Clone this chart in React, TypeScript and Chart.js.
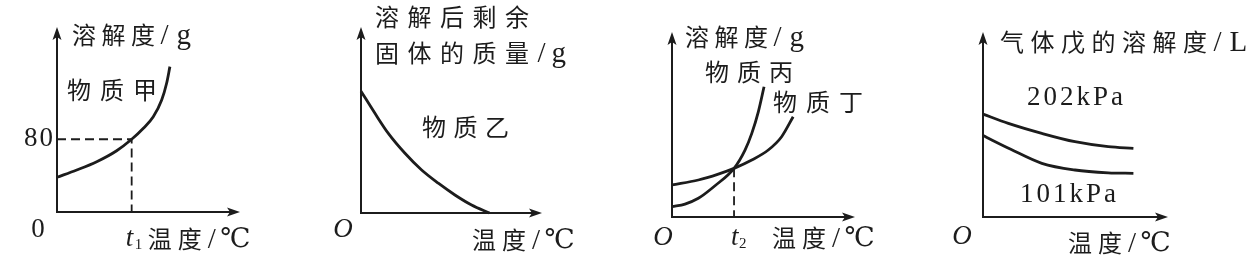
import React, { useEffect, useRef } from "react";
import { Chart, registerables } from "chart.js";

Chart.register(...registerables);

const W = 1253;
const H = 259;
const INK = "#1c1c1c";
const CJKFONT = '"Noto Sans CJK SC", "Noto Sans CJK JP", sans-serif';
const SERIF = '"Liberation Serif", "DejaVu Serif", serif';

// ---------- Panel 1: 物质甲 ----------
const p1Temp = [0, 10.8, 21.7, 32.6, 40.8, 47.2, 52.6, 57.2, 59.9, 61.7];
const p1Solubility = [38.2, 46.2, 55.3, 67.4, 80, 92.1, 104.8, 123.2, 141.6, 159.9];
const p1T1 = 40.8;
const p1Mark = 80;
const p1YMax = 203.5;
const p1Texts = ["溶解度/g", "物质甲", "80", "0", "t", "1", "温度/℃"];

// ---------- Panel 2: 物质乙 ----------
const p2Temp = [0, 7.7, 15.1, 24.3, 33.5, 42.7, 51.9, 61.1, 71];
const p2Mass = [65.5, 53.6, 42.8, 32.1, 23.1, 16.0, 9.7, 4.3, 0];
const p2Texts = ["溶解后剩余", "固体的质量/g", "物质乙", "O", "温度/℃"];

// ---------- Panel 3: 物质丙 / 物质丁 ----------
const p3TempBing = [0, 7.1, 14.4, 23.5, 33.9, 39.9, 43.6, 47.2, 50.3];
const p3SolBing = [5.6, 7.0, 10.1, 16.9, 26.3, 36.2, 45.2, 57.0, 70.4];
const p3TempDing = [0, 14.4, 25.3, 33.9, 43.6, 52.6, 59.9, 66.2];
const p3SolDing = [17.3, 20.0, 23.2, 26.3, 30.8, 36.2, 43.4, 54.2];
const p3T2 = 33.9;
const p3Cross = 26.3;
const p3Texts = ["溶解度/g", "物质丙", "物质丁", "O", "t", "2", "温度/℃"];

// ---------- Panel 4: 气体戊 ----------
const p4Temp202 = [0, 13.7, 31.8, 49.7, 67.7, 81.3];
const p4Sol202 = [55.6, 50.6, 45.2, 40.7, 38.0, 37.1];
const p4Temp101 = [0, 15, 31.8, 49.7, 67.7, 81.3];
const p4Sol101 = [44.0, 36.6, 29.0, 25.4, 23.9, 23.6];
const p4Texts = ["气体戊的溶解度/L", "202kPa", "101kPa", "O", "温度/℃"];

type Opts = { spacing?: number; align?: CanvasTextAlign; italic?: boolean };

function txt(ctx: CanvasRenderingContext2D, s: string, x: number, y: number, size: number, o: Opts = {}) {
  ctx.save();
  ctx.font = `${o.italic ? "italic " : ""}${size}px ${SERIF}`;
  ctx.fillStyle = INK;
  ctx.textAlign = o.align ?? "left";
  ctx.textBaseline = "middle";
  (ctx as any).letterSpacing = `${o.spacing ?? 0}px`;
  ctx.fillText(s, x, y);
  ctx.restore();
}

type RichOpts = { size?: number; lsize?: number; sp?: number; lsp?: number };

// mixed CJK / Latin label, drawn glyph by glyph
function rich(ctx: CanvasRenderingContext2D, s: string, x: number, y: number, o: RichOpts = {}) {
  const size = o.size ?? 24;
  const lsize = o.lsize ?? 29;
  const sp = o.sp ?? 6;
  const lsp = o.lsp ?? 6;
  ctx.save();
  ctx.fillStyle = INK;
  ctx.textBaseline = "middle";
  ctx.textAlign = "left";
  let cx = x;
  for (const ch of Array.from(s)) {
    const code = ch.codePointAt(0) as number;
    const cjk = code >= 0x2e80;
    const degC = ch === "℃";
    if (cjk) ctx.font = `${size}px ${CJKFONT}`;
    else if (degC) ctx.font = `27px ${SERIF}`;
    else ctx.font = `${lsize}px ${SERIF}`;
    ctx.fillText(ch, cx, y + (cjk ? 0 : 1));
    cx += ctx.measureText(ch).width + (cjk ? sp : lsp);
  }
  ctx.restore();
}

function arrow(ctx: CanvasRenderingContext2D, x: number, y: number, dir: "up" | "right") {
  const L = 13, w = 4.5, n = 3;
  ctx.beginPath();
  if (dir === "up") {
    ctx.moveTo(x, y);
    ctx.lineTo(x + w, y + L);
    ctx.lineTo(x, y + L - n);
    ctx.lineTo(x - w, y + L);
  } else {
    ctx.moveTo(x, y);
    ctx.lineTo(x - L, y - w);
    ctx.lineTo(x - L + n, y);
    ctx.lineTo(x - L, y + w);
  }
  ctx.closePath();
  ctx.fill();
}

function drawAxes(chart: any) {
  const ctx: CanvasRenderingContext2D = chart.ctx;
  const a = chart.chartArea;
  ctx.save();
  ctx.strokeStyle = INK;
  ctx.fillStyle = INK;
  ctx.lineWidth = 2;
  ctx.beginPath();
  ctx.moveTo(a.left, a.top + 8);
  ctx.lineTo(a.left, a.bottom);
  ctx.lineTo(a.right - 8, a.bottom);
  ctx.stroke();
  arrow(ctx, a.left, a.top, "up");
  arrow(ctx, a.right, a.bottom, "right");
  ctx.restore();
}

function pts(xs: number[], ys: number[]) {
  return xs.map((x, i) => ({ x, y: ys[i] }));
}

function curve(xs: number[], ys: number[]) {
  return {
    data: pts(xs, ys),
    borderColor: INK,
    borderWidth: 2.8,
    cubicInterpolationMode: "monotone",
    pointRadius: 0,
    fill: false,
    clip: false,
  };
}

function dashed(data: { x: number; y: number }[]) {
  return {
    data,
    borderColor: INK,
    borderWidth: 1.8,
    borderDash: [9, 5],
    tension: 0,
    pointRadius: 0,
    fill: false,
    clip: false,
  };
}

type Panel = {
  area: { l: number; r: number; t: number; b: number };
  xMax: number;
  yMax: number;
  datasets: any[];
  draw: (ctx: CanvasRenderingContext2D, chart: any) => void;
};

const PANELS: Panel[] = [
  {
    area: { l: 57, r: 240, t: 27, b: 212 },
    xMax: 100,
    yMax: p1YMax,
    datasets: [
      curve(p1Temp, p1Solubility),
      dashed([
        { x: 0, y: p1Mark },
        { x: p1T1, y: p1Mark },
        { x: p1T1, y: 0 },
      ]),
    ],
    draw: (ctx, c) => {
      const a = c.chartArea;
      const xs = c.scales.x;
      const ys = c.scales.y;
      rich(ctx, p1Texts[0], a.left + 15, 35, { sp: 5.5, lsp: 8 });
      rich(ctx, p1Texts[1], a.left + 10, 90, { sp: 9 });
      txt(ctx, p1Texts[2], a.left - 2, ys.getPixelForValue(p1Mark), 27, { align: "right", spacing: 2 });
      txt(ctx, p1Texts[3], a.left - 19, a.bottom + 18, 27, { align: "center" });
      const tx = xs.getPixelForValue(p1T1);
      txt(ctx, p1Texts[4], tx - 6, a.bottom + 27, 27, { italic: true });
      txt(ctx, p1Texts[5], tx + 3, a.bottom + 33, 15);
      rich(ctx, p1Texts[6], tx + 16, a.bottom + 27, { sp: 6, lsp: 4.5 });
    },
  },
  {
    area: { l: 361, r: 542, t: 27, b: 213 },
    xMax: 100,
    yMax: 100,
    datasets: [curve(p2Temp, p2Mass)],
    draw: (ctx, c) => {
      const a = c.chartArea;
      rich(ctx, p2Texts[0], a.left + 14, 17, { sp: 8.5 });
      rich(ctx, p2Texts[1], a.left + 14, 53, { sp: 8.5, lsp: 6 });
      rich(ctx, p2Texts[2], a.left + 61, 127, { sp: 7.5 });
      txt(ctx, p2Texts[3], a.left - 18, a.bottom + 17, 27, { italic: true, align: "center" });
      rich(ctx, p2Texts[4], a.left + 111, a.bottom + 27, { sp: 6, lsp: 4.5 });
    },
  },
  {
    area: { l: 672, r: 855, t: 32, b: 217 },
    xMax: 100,
    yMax: 100,
    datasets: [
      curve(p3TempBing, p3SolBing),
      curve(p3TempDing, p3SolDing),
      dashed([
        { x: p3T2, y: p3Cross },
        { x: p3T2, y: 0 },
      ]),
    ],
    draw: (ctx, c) => {
      const a = c.chartArea;
      const xs = c.scales.x;
      rich(ctx, p3Texts[0], a.left + 13, 37, { sp: 5.5, lsp: 8 });
      rich(ctx, p3Texts[1], a.left + 33, 72, { sp: 8 });
      rich(ctx, p3Texts[2], a.left + 101, 102, { sp: 9 });
      txt(ctx, p3Texts[3], a.left - 9, a.bottom + 21, 27, { italic: true, align: "center" });
      const tx = xs.getPixelForValue(p3T2);
      txt(ctx, p3Texts[4], tx - 3, a.bottom + 21, 27, { italic: true });
      txt(ctx, p3Texts[5], tx + 5, a.bottom + 27, 15);
      rich(ctx, p3Texts[6], a.left + 100, a.bottom + 21, { sp: 6, lsp: 4.5 });
    },
  },
  {
    area: { l: 983, r: 1168, t: 32, b: 217 },
    xMax: 100,
    yMax: 100,
    datasets: [curve(p4Temp202, p4Sol202), curve(p4Temp101, p4Sol101)],
    draw: (ctx, c) => {
      const a = c.chartArea;
      rich(ctx, p4Texts[0], a.left + 17, 42, { sp: 6.5, lsp: 8 });
      txt(ctx, p4Texts[1], a.left + 44, 98, 27, { spacing: 3 });
      txt(ctx, p4Texts[2], a.left + 37, 195, 27, { spacing: 3 });
      txt(ctx, p4Texts[3], a.left - 21, a.bottom + 20, 27, { italic: true, align: "center" });
      rich(ctx, p4Texts[4], a.left + 85, a.bottom + 26, { sp: 6, lsp: 4.5 });
    },
  },
];

function buildConfig(p: Panel, i: number): any {
  return {
    type: "line",
    data: { datasets: p.datasets },
    options: {
      responsive: false,
      animation: false,
      events: [],
      layout: { padding: { left: p.area.l, right: W - p.area.r, top: p.area.t, bottom: H - p.area.b } },
      scales: {
        x: { type: "linear", min: 0, max: p.xMax, display: false },
        y: { type: "linear", min: 0, max: p.yMax, display: false },
      },
      plugins: { legend: { display: false }, tooltip: { enabled: false } },
      elements: { point: { radius: 0 } },
    },
    plugins: [
      {
        id: "decor" + i,
        afterDraw: (chart: any) => {
          drawAxes(chart);
          p.draw(chart.ctx, chart);
        },
      },
    ],
  };
}

export default function App() {
  const r0 = useRef<HTMLCanvasElement>(null);
  const r1 = useRef<HTMLCanvasElement>(null);
  const r2 = useRef<HTMLCanvasElement>(null);
  const r3 = useRef<HTMLCanvasElement>(null);
  const refs = [r0, r1, r2, r3];

  useEffect(() => {
    const charts = PANELS.map((p, i) => new Chart(refs[i].current as HTMLCanvasElement, buildConfig(p, i)));
    return () => charts.forEach((c) => c.destroy());
  }, []);

  return (
    <div style={{ position: "fixed", left: 0, top: 0, width: W, height: H, background: "#fff", overflow: "hidden" }}>
      {refs.map((r, i) => (
        <canvas
          key={i}
          ref={r}
          width={W}
          height={H}
          style={{ position: "absolute", left: 0, top: 0, width: W, height: H }}
        />
      ))}
    </div>
  );
}
